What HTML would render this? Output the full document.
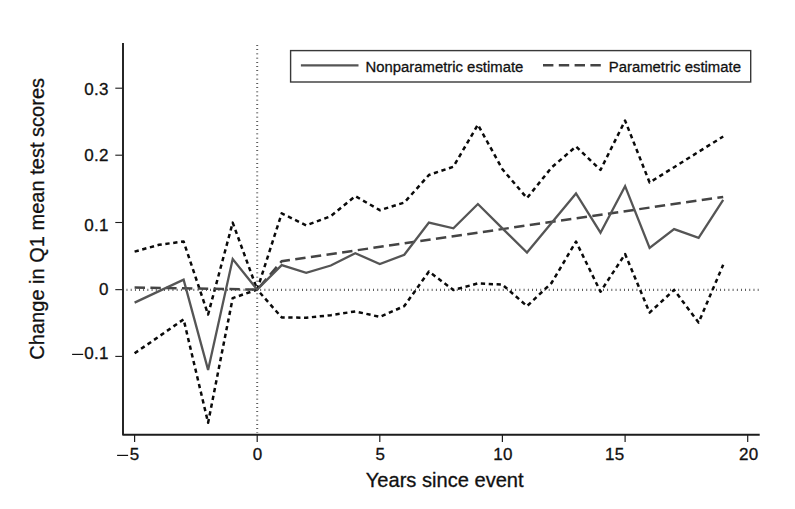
<!DOCTYPE html>
<html><head><meta charset="utf-8"><title>Chart</title>
<style>
html,body{margin:0;padding:0;background:#fff;}
body{width:795px;height:509px;overflow:hidden;font-family:"Liberation Sans",sans-serif;}
svg{display:block;}
text{font-family:"Liberation Sans",sans-serif;fill:#111;stroke:#111;stroke-width:0.3px;}
.tk{font-size:17px;letter-spacing:0.3px;}
.ax{font-size:20.1px;}.ay{font-size:20.05px;}
.lg{font-size:15.3px;}
</style></head><body>
<svg width="795" height="509" viewBox="0 0 795 509">
<rect width="795" height="509" fill="#fff"/>
<line x1="257.2" y1="45.1" x2="257.2" y2="433" stroke="#2a2a2a" stroke-width="2" stroke-dasharray="0.75 3.46"/>
<line x1="126.6" y1="289.9" x2="758.5" y2="289.9" stroke="#2a2a2a" stroke-width="2.2" stroke-dasharray="0.75 3.43"/>
<path d="M123,43 V434.7 H759.7" fill="none" stroke="#1c1c1c" stroke-width="1.9" stroke-linejoin="round"/>
<line x1="115.3" y1="88.2" x2="122.5" y2="88.2" stroke="#1c1c1c" stroke-width="1.1"/>
<text class="tk" x="108.8" y="95" text-anchor="end">0.3</text>
<line x1="115.3" y1="155.2" x2="122.5" y2="155.2" stroke="#1c1c1c" stroke-width="1.1"/>
<text class="tk" x="108.8" y="161" text-anchor="end">0.2</text>
<line x1="115.3" y1="222.5" x2="122.5" y2="222.5" stroke="#1c1c1c" stroke-width="1.1"/>
<text class="tk" x="108.8" y="231" text-anchor="end">0.1</text>
<line x1="115.3" y1="289.65" x2="122.5" y2="289.65" stroke="#1c1c1c" stroke-width="1.1"/>
<text class="tk" x="108.8" y="295" text-anchor="end">0</text>
<line x1="115.3" y1="356.4" x2="122.5" y2="356.4" stroke="#1c1c1c" stroke-width="1.1"/>
<line x1="72.1" y1="354.4" x2="83.2" y2="354.4" stroke="#111" stroke-width="1.2"/>
<text class="tk" x="108.8" y="359" text-anchor="end">0.1</text>
<line x1="134.6" y1="435" x2="134.6" y2="442" stroke="#1c1c1c" stroke-width="1.2"/>
<line x1="117.1" y1="455.4" x2="128.1" y2="455.4" stroke="#111" stroke-width="1.2"/>
<text class="tk" x="134.6" y="460" text-anchor="middle">5</text>
<line x1="257.2" y1="435" x2="257.2" y2="442" stroke="#1c1c1c" stroke-width="1.2"/>
<text class="tk" x="257.7" y="460" text-anchor="middle">0</text>
<line x1="379.8" y1="435" x2="379.8" y2="442" stroke="#1c1c1c" stroke-width="1.2"/>
<text class="tk" x="380.5" y="460" text-anchor="middle">5</text>
<line x1="502.4" y1="435" x2="502.4" y2="442" stroke="#1c1c1c" stroke-width="1.2"/>
<text class="tk" x="503.1" y="460" text-anchor="middle">10</text>
<line x1="625.1" y1="435" x2="625.1" y2="442" stroke="#1c1c1c" stroke-width="1.2"/>
<text class="tk" x="614.8" y="460" text-anchor="middle">15</text>
<line x1="747.7" y1="435" x2="747.7" y2="442" stroke="#1c1c1c" stroke-width="1.2"/>
<text class="tk" x="748.8" y="460" text-anchor="middle">20</text>
<text class="ax" x="444.7" y="486.6" text-anchor="middle">Years since event</text>
<text class="ay" transform="translate(44.3,218.8) rotate(-90)" text-anchor="middle">Change in Q1 mean test scores</text>
<polyline points="134.6,251.6 159.1,244.8 183.6,241.5 208.1,314.5 232.7,222.6 257.2,289.6 281.7,213.4 306.2,225.4 330.8,216.2 355.3,196.1 379.8,210.2 404.3,202.6 428.9,175.0 453.4,166.7 477.9,124.7 502.4,169.2 527.0,198.1 551.5,167.6 576.0,146.5 600.5,169.9 625.1,120.6 649.6,182.5 674.1,167.2 698.6,151.8 723.2,136.5" fill="none" stroke="#0a0a0a" stroke-width="2.5" stroke-dasharray="4.3 3.63" stroke-linejoin="round"/>
<polyline points="134.6,353.3 159.1,336.4 183.6,319.3 208.1,422.7 232.7,298.1 257.2,289.6 281.7,317.4 306.2,317.7 330.8,315.2 355.3,311.4 379.8,316.9 404.3,306.1 428.9,271.6 453.4,290.0 477.9,283.4 502.4,284.6 527.0,306.1 551.5,283.0 576.0,241.6 600.5,291.7 625.1,254.1 649.6,312.6 674.1,289.9 698.6,322.6 723.2,264.8" fill="none" stroke="#0a0a0a" stroke-width="2.5" stroke-dasharray="4.3 3.58" stroke-linejoin="round"/>
<polyline points="134.6,287.5 257.2,289.6 281.7,261.2 723.2,196.9" fill="none" stroke="#444" stroke-width="2.5" stroke-dasharray="10.4 5.4"/>
<polyline points="134.6,302.6 159.1,291.1 183.6,279.7 208.1,369.9 232.7,259.1 257.2,289.6 281.7,265.1 306.2,272.8 330.8,265.5 355.3,253.2 379.8,264.1 404.3,254.8 428.9,222.6 453.4,228.3 477.9,204.0 502.4,228.4 527.0,252.6 551.5,222.9 576.0,193.5 600.5,232.7 625.1,186.2 649.6,248.0 674.1,229.1 698.6,237.9 723.2,199.8" fill="none" stroke="#555" stroke-width="2.3" stroke-linejoin="miter"/>
<rect x="290.6" y="50.6" width="460.1" height="31.4" fill="#fff" stroke="#383838" stroke-width="1.4"/>
<line x1="300.9" y1="65.3" x2="358.5" y2="65.3" stroke="#555" stroke-width="2.3"/>
<text class="lg" x="365.5" y="72" textLength="157.8" lengthAdjust="spacingAndGlyphs">Nonparametric estimate</text>
<line x1="543" y1="65.3" x2="601.5" y2="65.3" stroke="#444" stroke-width="2.5" stroke-dasharray="10.4 5.4"/>
<text class="lg" x="608.8" y="72" textLength="132.1" lengthAdjust="spacingAndGlyphs">Parametric estimate</text>
</svg>
</body></html>
